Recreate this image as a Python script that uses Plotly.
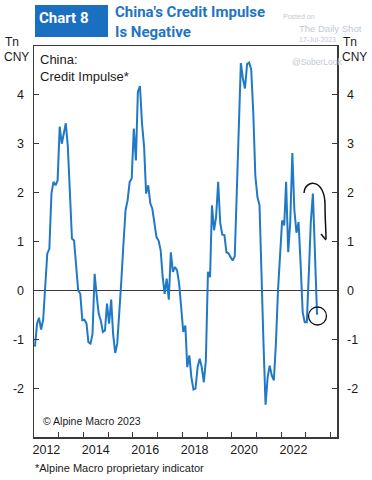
import pandas as pd
import plotly.graph_objects as go

# ---------------- data ----------------
start_month = "2012-01-01"
credit_impulse = [
    # 2012
    -1.15, -0.68, -0.56, -0.80, -0.61, 0.00, 0.75, 0.85, 1.98, 2.22, 2.15, 2.25,
    # 2013
    3.35, 3.00, 3.20, 3.42, 2.94, 2.00, 1.06, 1.02, 0.50, 0.00, -0.07, -0.61,
    # 2014
    -0.60, -0.68, -1.06, -1.09, -0.89, 0.34, -0.10, -0.48, -0.62, -0.85, -0.82, -0.27,
    # 2015
    -0.68, -0.19, -0.89, -1.28, -1.09, -0.50, 0.20, 0.95, 1.64, 1.84, 2.22, 2.29,
    # 2016
    3.31, 2.66, 4.06, 4.18, 3.42, 2.94, 1.98, 2.15, 1.78, 1.67, 1.40, 1.09,
    # 2017
    1.02, 0.82, 0.30, -0.07, 0.24, -0.19, 0.78, 0.38, 0.48, 0.41, 0.14, -0.35,
    # 2018
    -0.85, -0.72, -1.57, -1.33, -1.78, -2.03, -2.01, -1.57, -1.40, -1.57, -1.88, -1.43,
    # 2019
    0.38, 0.27, 1.74, 1.23, 1.50, 2.22, 1.38, 1.14, 1.13, 0.78, 0.76, 0.68,
    # 2020
    0.61, 0.70, 2.00, 3.30, 4.65, 4.33, 4.13, 4.63, 4.66, 4.52, 3.62, 2.35,
    # 2021
    1.91, 1.74, 0.60, -1.10, -2.34, -1.78, -1.54, -1.74, -1.84, -1.09, 0.00, 0.82,
    # 2022
    1.43, 1.33, 2.22, 0.78, 1.40, 2.81, 1.64, 1.18, 1.40, 0.55, -0.45, -0.65,
    # 2023
    -0.65, 0.40, 1.40, 1.98, 0.85, -0.50,
]
x_label_years = [2012, 2014, 2016, 2018, 2020, 2022]
x_tick_years = list(range(2013, 2025))
y_tick_values = [-2, -1, 0, 1, 2, 3, 4]
y_tick_labels = ["-2", "-1", "0", "1", "2", "3", "4"]

dates = pd.date_range(start_month, periods=len(credit_impulse), freq="MS") + pd.Timedelta(days=14)

# ---------------- layout geometry ----------------
FIG_W, FIG_H = 372, 480
L, R, T, B = 34, 35, 46, 43
W = FIG_W - L - R
H = FIG_H - T - B
X_RANGE = ["2012-01-01", "2024-04-05"]


def px(x):
    return (x - L) / W


def py(y):
    return (T + H - y) / H


LINE_BLUE = "#2079c7"
AXIS_COL = "#3a3a3a"
TEXT_COL = "#1a1a1a"
WM_COL = "#c3c9d4"
FONT = "Liberation Sans, Arial, sans-serif"

fig = go.Figure()
fig.add_trace(go.Scatter(
    x=dates, y=credit_impulse, mode="lines",
    line=dict(color=LINE_BLUE, width=2), hoverinfo="skip", showlegend=False,
))
# invisible companion trace so the right axis / tick axis are rendered
fig.add_trace(go.Scatter(x=dates, y=credit_impulse, xaxis="x2", yaxis="y2", mode="lines",
                         line=dict(width=0, color="rgba(0,0,0,0)"),
                         hoverinfo="skip", showlegend=False))

fig.update_layout(
    width=FIG_W, height=FIG_H,
    margin=dict(l=L, r=R, t=T, b=B, pad=0),
    paper_bgcolor="white", plot_bgcolor="white",
    font=dict(family=FONT, color=TEXT_COL, size=12),
    showlegend=False,
    xaxis=dict(
        type="date", range=X_RANGE,
        tickvals=[f"{y}-07-02" for y in x_label_years],
        ticktext=[str(y) for y in x_label_years],
        ticks="", showgrid=False, zeroline=False,
        showline=True, linecolor=AXIS_COL, linewidth=1.5, mirror=True,
        tickfont=dict(size=12.5, color=TEXT_COL),
    ),
    xaxis2=dict(
        type="date", range=X_RANGE, overlaying="x", side="bottom", matches="x",
        tickvals=[f"{y}-01-01" for y in x_tick_years],
        showticklabels=False,
        ticks="inside", ticklen=5, tickwidth=1, tickcolor=AXIS_COL,
        showgrid=False, zeroline=False, showline=False,
    ),
    yaxis=dict(
        range=[-3, 5],
        tickvals=y_tick_values, ticktext=y_tick_labels,
        ticks="inside", ticklen=5, tickwidth=1, tickcolor=AXIS_COL,
        showgrid=False,
        zeroline=True, zerolinecolor=AXIS_COL, zerolinewidth=1,
        showline=True, linecolor=AXIS_COL, linewidth=1.5,
        tickfont=dict(size=12.5, color=TEXT_COL),
        ticklabelstandoff=6,
    ),
    yaxis2=dict(
        range=[-3, 5], overlaying="y", side="right", matches="y",
        tickvals=y_tick_values, ticktext=y_tick_labels,
        ticks="inside", ticklen=5, tickwidth=1, tickcolor=AXIS_COL,
        showgrid=False, zeroline=False,
        showline=True, linecolor=AXIS_COL, linewidth=1.5,
        tickfont=dict(size=12.5, color=TEXT_COL),
        ticklabelstandoff=6,
    ),
)

shapes = []
# "Chart 8" badge
shapes.append(dict(type="rect", xref="paper", yref="paper",
                   x0=px(35), x1=px(108), y0=py(37), y1=py(5),
                   fillcolor="#1a6fc0", line=dict(width=0), layer="above"))
# circle around latest value
shapes.append(dict(type="circle", xref="paper", yref="paper",
                   x0=px(308.5), x1=px(326.5), y0=py(325), y1=py(307),
                   line=dict(color="#111111", width=1.3)))


def ppath(points_cmds):
    out = []
    for cmd, pts in points_cmds:
        coords = " ".join(f"{px(x):.5f},{py(y):.5f}" for x, y in pts)
        out.append(f"{cmd}{coords}")
    return " ".join(out)


arc = ppath([("M", [(304, 193)]),
             ("C", [(305, 179), (325, 178), (325, 205)]),
             ("C", [(325, 220), (326, 229), (326, 239)])])
shapes.append(dict(type="path", xref="paper", yref="paper", path=arc,
                   line=dict(color="#111111", width=1.5)))
head = ppath([("M", [(321, 234)]), ("L", [(326, 240), (331, 234)])])
shapes.append(dict(type="path", xref="paper", yref="paper", path=head,
                   line=dict(color="#111111", width=1.5)))
fig.update_layout(shapes=shapes)


def ann(text, x, y, size, color=TEXT_COL, xanchor="left", family=FONT, weight="normal", bg=None):
    d = dict(text=text, xref="paper", yref="paper", x=px(x), y=py(y),
             xanchor=xanchor, yanchor="middle", showarrow=False,
             font=dict(size=size, color=color, family=family, weight=weight),
             borderpad=0)
    if bg:
        d["bgcolor"] = bg
    fig.add_annotation(**d)


TITLE_FONT = "Roboto, Liberation Sans, sans-serif"
ann("Chart 8", 38, 18, 15, color="white", family=TITLE_FONT, weight="bold")
ann("China's Credit Impulse", 114, 12, 15, color="#1f74c4", family=TITLE_FONT, weight="bold")
ann("Is Negative", 114, 32, 15, color="#1f74c4", family=TITLE_FONT, weight="bold")

# watermark
ann("Posted on", 282, 17, 7, color=WM_COL)
ann("The Daily Shot", 298, 28, 9.5, color=WM_COL)
ann("17-Jul-2023", 298, 39, 7, color=WM_COL)
ann("@SoberLook", 291, 62, 8.5, color=WM_COL)

# unit labels
ann("Tn", 4, 42, 12)
ann("CNY", 3, 57, 12)
ann("Tn", 342, 42, 12)
ann("CNY", 341, 57, 12)

# in-plot labels
ann("China:", 39, 60, 13)
ann("Credit Impulse*", 39, 76, 13)
ann("© Alpine Macro 2023", 42, 421, 10.5)
ann("*Alpine Macro proprietary indicator", 34, 468, 11)

fig.write_html(
    "out.html",
    config=dict(displayModeBar=False, staticPlot=True),
    post_script="document.body.style.margin='0';document.body.style.padding='0';"
                "document.documentElement.style.overflow='hidden';",
)
